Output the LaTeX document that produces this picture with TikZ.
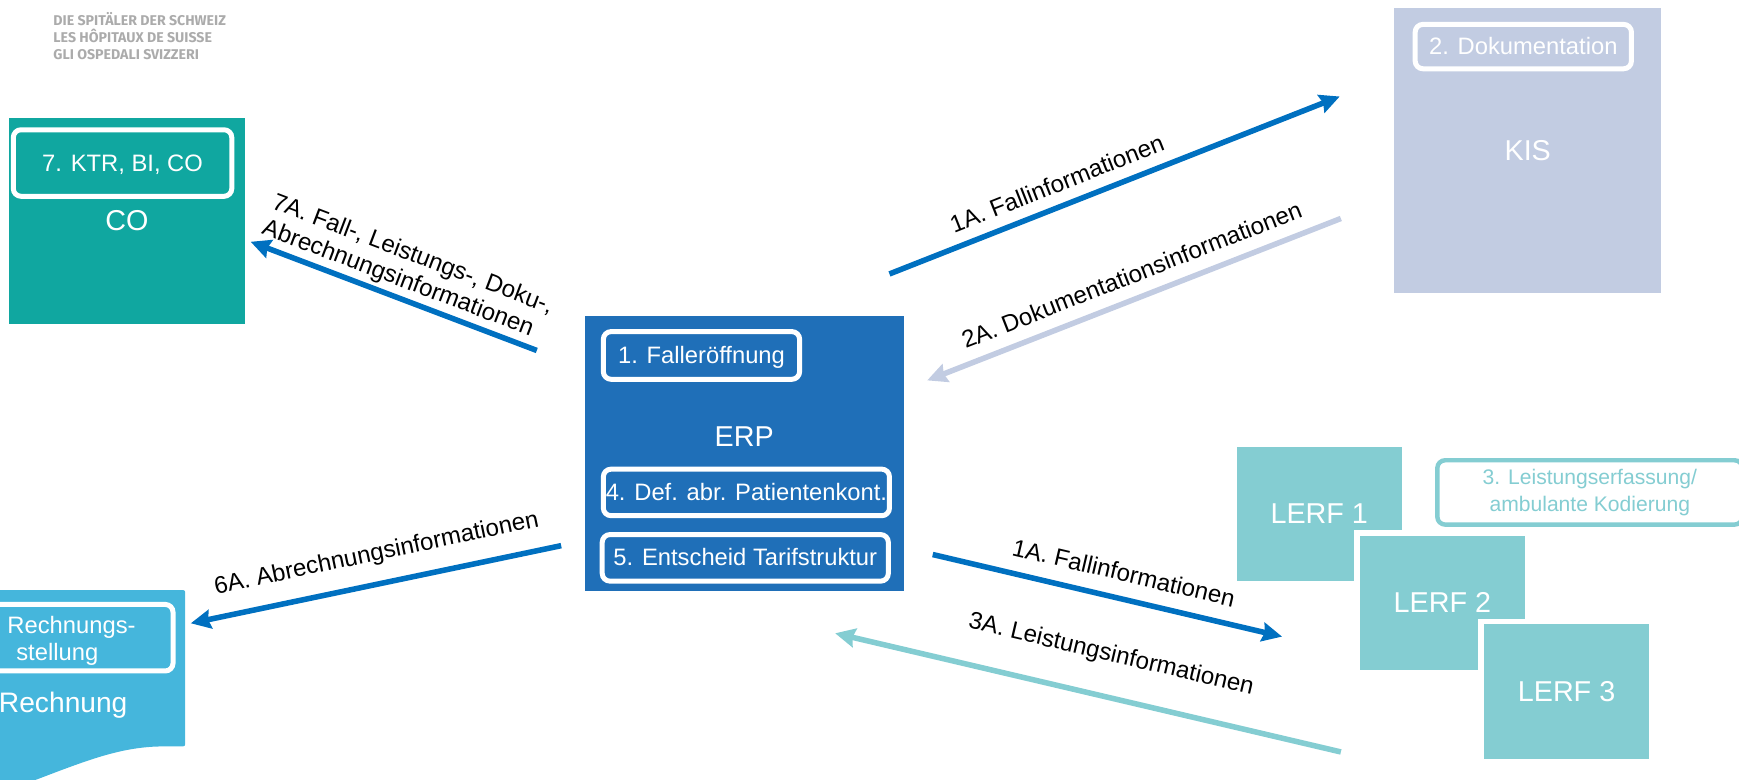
\documentclass[tikz,border=0pt]{standalone}
\usepackage{fontspec}
\setmainfont{Liberation Sans}
\newfontfamily\logofont{Fira Sans}
\usetikzlibrary{arrows.meta}
\definecolor{erpblue}{HTML}{1F6FB8}
\definecolor{flowblue}{HTML}{0070C0}
\definecolor{cogreen}{HTML}{10A7A0}
\definecolor{kisgrey}{HTML}{C2CCE2}
\definecolor{lerfteal}{HTML}{84CDD2}
\definecolor{rechblue}{HTML}{45B6DC}
\definecolor{logogrey}{HTML}{ABABAB}
\tikzset{
  block/.style={fill=#1,inner sep=0pt,text=white,font=\fontsize{26}{30}\selectfont},
  blocktext/.style={inner sep=0pt,text=white,font=\fontsize{26}{30}\selectfont},
  stepbox/.style={draw=white,line width=4.5bp,rounded corners=7bp,inner sep=0pt,text=white,text height=15bp,text depth=.5bp,font=\fontsize{21.5}{25}\selectfont},
  lerfbox/.style={block=lerfteal,draw=white,line width=5bp,minimum width=154bp,minimum height=126bp},
  flow/.style={-{Stealth[length=18bp,width=17bp,inset=2bp]},line width=5bp,draw=#1},
  flowlabel/.style={sloped,inner sep=0pt,text=black,font=\fontsize{21.8}{25}\selectfont},
}
\begin{document}
\begin{tikzpicture}[x=1bp,y=-1bp]
  \useasboundingbox (0,0) rectangle (1568,703.3);
  \clip (0,0) rectangle (1568,703.3);
  % Node: logo
  \node[anchor=north west,inner sep=0pt,align=left,text=logogrey,font=\logofont\bfseries\fontsize{12.8}{15.5}\selectfont] (logo) at (48,11) {DIE SPITÄLER DER SCHWEIZ\\LES HÔPITAUX DE SUISSE\\GLI OSPEDALI SVIZZERI};
  % Ends of the arrows
  \coordinate (erp_kis_a) at (802,247);
  \coordinate (erp_kis_b) at (1208,87);
  \coordinate (kis_erp_a) at (1209,197);
  \coordinate (kis_erp_b) at (836,343);
  \coordinate (erp_lerf_a) at (841,500);
  \coordinate (erp_lerf_b) at (1156,574);
  \coordinate (lerf_erp_a) at (1209,678);
  \coordinate (lerf_erp_b) at (753,571);
  \coordinate (erp_rech_a) at (506,492);
  \coordinate (erp_rech_b) at (172,562);
  \coordinate (erp_co_a) at (484,316);
  \coordinate (erp_co_b) at (226,218);
  % Edge: erp -> kis
  \draw[flow=flowblue] (erp_kis_a) -- node[flowlabel,above=10bp,pos=.39] (lab_erp_kis) {1A. Fallinformationen} (erp_kis_b);
  % Edge: kis -> erp
  \draw[flow=kisgrey] (kis_erp_a) -- node[flowlabel,above=11bp,pos=.485] (lab_kis_erp) {2A. Dokumentationsinformationen} (kis_erp_b);
  % Edge: erp -> lerf
  \draw[flow=flowblue] (erp_lerf_a) -- node[flowlabel,above=13bp,pos=.53] (lab_erp_lerf) {1A. Fallinformationen} (erp_lerf_b);
  % Edge: lerf -> erp
  \draw[flow=lerfteal] (lerf_erp_a) -- node[flowlabel,above=25bp,pos=.473] (lab_lerf_erp) {3A. Leistungsinformationen} (lerf_erp_b);
  % Edge: erp -> rechnung
  \draw[flow=flowblue] (erp_rech_a) -- node[flowlabel,above=14bp,pos=.482] (lab_erp_rech) {6A. Abrechnungsinformationen} (erp_rech_b);
  % Edge: erp -> co
  \draw[flow=flowblue] (erp_co_a) -- node[flowlabel,align=left,above=3bp,pos=.49] (lab_erp_co) {7A. Fall-, Leistungs-, Doku-,\\Abrechnungsinformationen} (erp_co_b);
  % Node: co
  \node[block=cogreen,minimum width=213bp,minimum height=186bp] (co) at (114.5,199) {CO};
  \node[stepbox,minimum width=197bp,minimum height=60bp] (ktr) at (110.5,147) {7. KTR, BI, CO};
  % Node: kis
  \node[block=kisgrey,minimum width=241bp,minimum height=257bp] (kis) at (1377.5,135.5) {KIS};
  \node[stepbox,minimum width=195bp,minimum height=40bp] (doku) at (1373.5,42) {2. Dokumentation};
  % Node: erp
  \node[block=erpblue,minimum width=288bp,minimum height=248bp] (erp) at (671.5,409) {};
  \node[blocktext] (erptext) at (671,394) {ERP};
  \node[stepbox,minimum width=177bp,minimum height=43bp] (fall) at (632.5,320.5) {1. Falleröffnung};
  \node[stepbox,minimum width=258bp,minimum height=42bp] (konto) at (673,444) {4. Def. abr. Patientenkont.};
  \node[stepbox,minimum width=258bp,minimum height=42bp] (tarif) at (672,503) {5. Entscheid Tarifstruktur};
  % Node: rechnung
  \path[fill=rechblue,rounded corners=2bp] (-10,532) -- (167,532) -- (167,673) -- (150,673) .. controls (110,673) and (80,685) .. (30,704) -- (-10,710) -- cycle;
  \node[stepbox,minimum width=180bp,minimum height=60bp] (stellung) at (66,575) {};
  \node[blocktext,align=left,font=\fontsize{21.5}{25}\selectfont] (stellungtext) at (64.5,578) {Rechnungs-\\\hspace*{8bp}stellung};
  \node[blocktext,font=\fontsize{25.5}{30}\selectfont] (rechnung) at (57,635.5) {Rechnung};
  % Node: lerf
  \node[block=lerfteal,minimum width=149bp,minimum height=121bp] (lerf1) at (1189.5,463.5) {LERF 1};
  \node[lerfbox] (lerf2) at (1300.5,543.5) {LERF 2};
  \node[lerfbox] (lerf3) at (1412.5,623.5) {LERF 3};
  \node[draw=lerfteal,fill=white,line width=4bp,rounded corners=7bp,inner sep=0pt,text=lerfteal,align=center,minimum width=275bp,minimum height=58bp,font=\fontsize{19.1}{25}\selectfont] (leistung) at (1433.5,444) {3. Leistungserfassung/\\ambulante Kodierung};
\end{tikzpicture}
\end{document}
